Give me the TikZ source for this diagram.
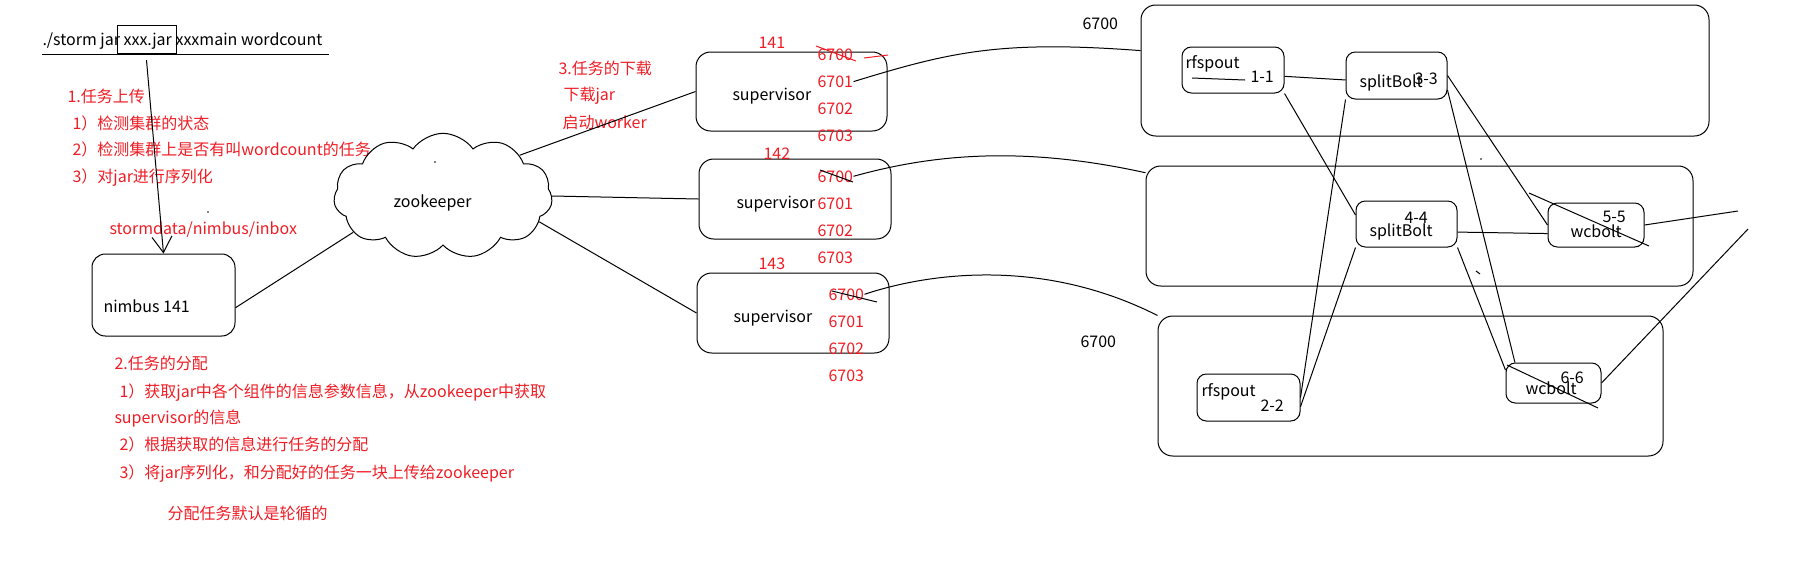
\documentclass[tikz,border=0pt]{standalone}
\usepackage{fontspec}
\setmainfont{Noto Sans CJK SC}
\usetikzlibrary{arrows.meta,fit,shapes.symbols}
\definecolor{paintred}{RGB}{240,28,36}
\tikzset{
  txt/.style={anchor=base west, inner sep=0pt, font=\fontsize{12pt}{14pt}\selectfont},
  note/.style={txt, text=paintred},
  box/.style={draw, rounded corners=11pt, inner sep=0pt},
  comp/.style={draw, rounded corners=7pt, inner sep=0pt},
}
\begin{document}
\begin{tikzpicture}[x=0.75pt, y=-0.75pt, line width=0.75pt]
\useasboundingbox (0,0) rectangle (1794,576);

\node[txt] (cmd) at (42,45) {./storm jar xxx.jar xxxmain wordcount};
\draw (42,54) -- (329,54);
\node[draw, inner sep=0pt, fit={(117,25) (176,53)}] (jarbox) {};

\node[note] (up0) at (67,102) {1.任务上传};
\node[note] (up1) at (72,129) {1）检测集群的状态};
\node[note] (up2) at (72,155) {2）检测集群上是否有叫wordcount的任务};
\node[note] (up3) at (72,182) {3）对jar进行序列化};
\node[note] (inbox) at (109,234) {stormdata/nimbus/inbox};

\node[box, rounded corners=10pt, fit={(92,254) (235,336)}] (nimbus) {};
\node[txt] (nimbustxt) at (103,312) {nimbus 141};
\draw[-{Straight Barb[length=12pt,width=15pt]}] ([yshift=-5pt]jarbox.south) -- (nimbus.north);

\node[note] (as0) at (114,369) {2.任务的分配};
\node[note] (as1) at (119,397) {1）获取jar中各个组件的信息参数信息，从zookeeper中获取};
\node[note] (as1b) at (114,423) {supervisor的信息};
\node[note] (as2) at (119,450) {2）根据获取的信息进行任务的分配};
\node[note] (as3) at (119,478) {3）将jar序列化，和分配好的任务一块上传给zookeeper};
\node[note] (as4) at (167,519) {分配任务默认是轮循的};

\node[cloud, draw, cloud puffs=11, cloud puff arc=110, aspect=1.74, minimum width=164pt, minimum height=94pt, inner sep=0pt] (zk) at (443,196) {};
\node[txt] (zktxt) at (393,207) {zookeeper};
\draw (nimbus.-10) -- (zk.202);

\node[note] (dl0) at (558,74) {3.任务的下载};
\node[note] (dl1) at (563,100) {下载jar};
\node[note] (dl2) at (562,128) {启动worker};

\node[box, fit={(696,52) (887,131)}] (sup1) {};
\node[box, fit={(699,159) (891,239)}] (sup2) {};
\node[box, fit={(697,273) (889,353)}] (sup3) {};
\node[txt] (sup1txt) at (732,100) {supervisor};
\node[txt] (sup2txt) at (736,208) {supervisor};
\node[txt] (sup3txt) at (733,322) {supervisor};
\node[note] (ip1) at (758,48) {141};
\node[note] (ip2) at (763,159) {142};
\node[note] (ip3) at (758,269) {143};
\foreach \s/\x/\y in {1/817/60, 2/817/182, 3/828/300}
  \foreach \p in {0,...,3}
    \node[note] (s\s p\p) at (\x,{\y+27.3*\p}) {670\p};

\draw (zk.28) -- (sup1.west);
\draw (zk.east) -- (sup2.west);
\draw (zk.-15) -- (sup3.west);

\draw[paintred] (816,46) -- (856,61);
\draw[paintred] (864,58) -- (888,55);
\draw (820,170) -- (853,182);
\draw (832,291) -- (877,302);

\node[box, fit={(1141,5) (1709,136)}] (w1) {};
\node[box, fit={(1146,166) (1693,286)}] (w2) {};
\node[box, fit={(1158,316) (1663,456)}] (w3) {};
\node[txt] (w1txt) at (1082,29) {6700};
\node[txt] (w3txt) at (1080,347) {6700};

\draw (s1p1.east) .. controls (950,52) and (1000,40) .. (w1.176);
\draw (s2p0.east) .. controls (930,155) and (1020,145) .. (w2.169);
\draw (s3p0.east) .. controls (925,274) and (1040,256) .. (w3.north west);

\node[comp, fit={(1182,47) (1284,93)}] (rf1) {};
\node[txt] (rf1a) at (1185,68) {rfspout};
\node[txt] (rf1b) at (1250,82) {1-1};
\draw (1192,78) -- (1245,80);
\node[comp, fit={(1346,52) (1447,99)}] (sp3) {};
\node[txt] (sp3a) at (1359,87) {splitBolt};
\node[txt] (sp3b) at (1414,84) {3-3};
\node[comp, fit={(1356,201) (1457,247)}] (sp4) {};
\node[txt] (sp4b) at (1404,223) {4-4};
\node[txt] (sp4a) at (1369,236) {splitBolt};
\node[comp, fit={(1548,203) (1644,247)}] (wc5) {};
\node[txt] (wc5b) at (1602,222) {5-5};
\node[txt] (wc5a) at (1570,237) {wcbolt};
\node[comp, fit={(1197,374) (1300,421)}] (rf2) {};
\node[txt] (rf2a) at (1201,396) {rfspout};
\node[txt] (rf2b) at (1260,411) {2-2};
\node[comp, fit={(1506,363) (1601,403)}] (wc6) {};
\node[txt] (wc6b) at (1560,383) {6-6};
\node[txt] (wc6a) at (1525,394) {wcbolt};

\draw (rf1.-7) -- (sp3.185);
\draw (rf1.south east) -- (sp4.170);
\draw (sp3.south west) -- (rf2.east);
\draw (sp4.south west) -- (rf2.-10);
\draw (sp3.east) -- (wc5.west);
\draw (sp3.-16) -- (wc6.152);
\draw (sp4.south east) -- (wc6.165);
\draw (sp4.-9) -- (wc5.190);
\draw (1529,193) -- (1649,246);
\draw (1507,365) -- (1598,408);
\coordinate (out5) at (1738,211);
\coordinate (out6) at (1748,229);
\draw (wc5.east) -- (out5);
\draw (wc6.east) -- (out6);

\fill (208,212) circle (0.9);
\fill (435,162) circle (0.9);
\fill (1481,159) circle (0.9);
\draw (1476,271) -- (1480,274);
\end{tikzpicture}
\end{document}
